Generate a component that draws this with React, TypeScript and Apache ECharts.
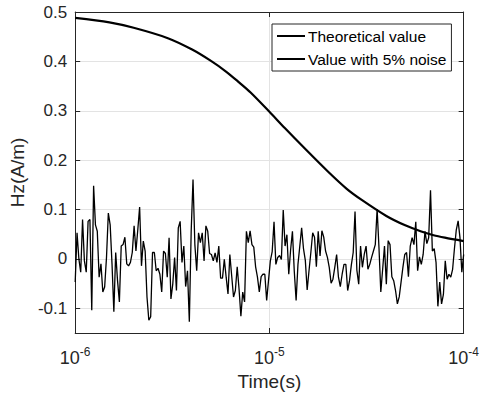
import React, { useEffect, useRef } from "react";
import * as echarts from "echarts";

const theoryTimes = [1e-6, 1.5e-6, 2e-6, 3e-6, 4e-6, 5e-6, 6e-6, 7e-6, 8e-6, 1e-5, 1.2e-5, 1.5e-5, 2e-5, 2.5e-5, 3e-5, 4e-5, 5e-5, 6e-5, 7e-5, 8e-5, 1e-4];
const theoryValues = [0.488, 0.479, 0.468, 0.447, 0.424, 0.401, 0.379, 0.357, 0.337, 0.298, 0.265, 0.226, 0.177, 0.142, 0.119, 0.087, 0.068, 0.056, 0.048, 0.043, 0.036];

const noiseValues = [
  -0.047, 0.053, 0, -0.027, 0.08, -0.004, -0.027, 0.076, 0.08, -0.104,
  0.148, 0.069, 0.056, -0.037, -0.01, -0.067, -0.057, 0.003, 0.093, 0.069,
  -0.01, -0.107, 0.013, -0.044, -0.087, 0.026, 0.029, 0.044, -0.01, -0.014,
  -0.007, 0.013, 0.067, 0.016, 0.059, 0.105, -0.014, 0.036, 0.016, -0.077,
  -0.124, -0.117, 0.013, 0.013, -0.024, -0.019, -0.031, -0.067, 0.016, 0.011,
  -0.037, 0.043, -0.081, -0.051, 0.003, -0.064, 0.063, 0.076, -0.007, 0.026,
  -0.056, -0.024, -0.127, 0.056, 0.161, 0.029, -0.024, 0.053, 0.033, 0.053,
  -0.004, 0.067, 0.056, 0.011, 0.009, -0.004, 0.012, -0.007, 0.026, -0.039,
  -0.039, -0.001, -0.037, -0.071, 0.009, -0.034, -0.077, -0.064, -0.016, -0.061,
  -0.116, -0.067, -0.087, 0.056, 0.033, 0.057, 0.029, 0.024, -0.016, -0.037,
  -0.067, -0.036, -0.031, -0.031, -0.084, -0.044, -0.004, 0.015, 0.075, -0.011,
  0.003, 0.007, -0.001, 0.099, 0.026, 0.049, -0.031, 0.018, 0.056, -0.025,
  -0.084, -0.011, 0.026, 0.063, 0.021, -0.003, -0.063, -0.024, 0.013, 0.053,
  0.044, -0.016, 0.056, 0.006, 0.057, 0.044, 0.016, 0.003, -0.017, -0.049,
  -0.041, -0.017, 0.009, -0.037, -0.056, -0.031, -0.011, -0.011, -0.064, -0.044,
  -0.012, 0.013, 0.096, -0.023, -0.051, 0.026, -0.017, 0.009, 0.026, -0.021,
  -0.011, 0.003, 0.016, 0.029, 0.101, 0.023, -0.067, -0.021, 0.026, -0.051,
  0.037, 0.029, -0.036, -0.044, -0.064, -0.091, -0.077, -0.047, -0.017, 0.009,
  0.013, -0.036, 0.026, 0.043, 0.029, 0.075, -0.024, 0.004, -0.011, 0.009,
  0.056, 0.031, 0.043, 0.139, 0.016, 0.021, -0.007, -0.096, -0.047, -0.091,
  -0.072, -0.004, -0.041, -0.031, -0.037, -0.021, 0.021, 0.059, 0.077, 0.043,
  -0.027, 0.009,
];

const yTicks = [-0.1, 0, 0.1, 0.2, 0.3, 0.4, 0.5];
const minorX = [2e-6, 3e-6, 4e-6, 5e-6, 6e-6, 7e-6, 8e-6, 9e-6, 2e-5, 3e-5, 4e-5, 5e-5, 6e-5, 7e-5, 8e-5, 9e-5];
const seriesNames = ["Theoretical value", "Value with 5% noise"];

const FONT = 'Arial, "Liberation Sans", sans-serif';
const AX = "#262626";

export default function App() {
  const ref = useRef<HTMLDivElement>(null);
  useEffect(() => {
    if (!ref.current) return;
    const chart = echarts.init(ref.current, null, { renderer: "svg" });
    const n = noiseValues.length;
    const noiseData = noiseValues.map((v, i) => [Math.pow(10, -6 + (2 * i) / (n - 1)), v]);
    const theoryData = theoryTimes.map((t, i) => [t, theoryValues[i]]);
    const xLabelFmt = (v: number) => `{b|10}{e|${Math.round(Math.log10(v))}}`;
    const xAxisBase: any = {
      type: "log",
      logBase: 10,
      min: 1e-6,
      max: 1e-4,
      axisLine: { show: true, onZero: false, lineStyle: { color: AX, width: 1 } },
      axisTick: { show: true, inside: true, length: 5, lineStyle: { color: AX } },
      splitLine: { show: true, lineStyle: { color: "#e3e3e3", width: 1 } },
    };
    const yAxisBase: any = {
      type: "value",
      min: -0.15,
      max: 0.5,
      axisLine: { show: true, onZero: false, lineStyle: { color: AX, width: 1 } },
      axisTick: { show: true, inside: true, length: 5, lineStyle: { color: AX }, customValues: yTicks },
    };
    chart.setOption({
      animation: false,
      backgroundColor: "#ffffff",
      textStyle: { fontFamily: FONT },
      grid: { left: 71, right: 15, top: 12, bottom: 61, show: false },
      legend: {
        data: seriesNames,
        orient: "vertical",
        left: 272,
        top: 24,
        backgroundColor: "#ffffff",
        borderColor: AX,
        borderWidth: 1,
        borderRadius: 0,
        padding: [4, 5, 4, 4],
        itemWidth: 28,
        itemHeight: 14,
        itemGap: 7,
        itemStyle: { opacity: 0 },
        textStyle: { fontSize: 15.5, color: "#000", fontFamily: FONT, padding: [0, 0, 0, -2] },
      },
      xAxis: [
        {
          ...xAxisBase,
          position: "bottom",
          name: "Time(s)",
          nameLocation: "middle",
          nameGap: 39,
          nameTextStyle: { fontSize: 19, color: AX, fontFamily: FONT },
          axisLabel: {
            show: true,
            margin: 13,
            formatter: xLabelFmt,
            rich: {
              b: { fontSize: 18, color: AX, fontFamily: FONT },
              e: { fontSize: 12, color: AX, fontFamily: FONT, padding: [0, 0, 12, 0] },
            },
          },
        },
        {
          ...xAxisBase,
          position: "top",
          axisLabel: { show: false },
          splitLine: { show: false },
        },
      ],
      yAxis: [
        {
          ...yAxisBase,
          position: "left",
          name: "Hz(A/m)",
          nameLocation: "middle",
          nameGap: 42,
          nameTextStyle: { fontSize: 19, color: AX, fontFamily: FONT },
          axisLabel: {
            show: true,
            fontSize: 17,
            color: AX,
            margin: 8,
            customValues: yTicks,
            formatter: (v: number) => String(Math.round(v * 10) / 10),
          },
          splitLine: { show: true, lineStyle: { color: "#e3e3e3", width: 1 } },
        },
        {
          ...yAxisBase,
          position: "right",
          axisLabel: { show: false },
          splitLine: { show: false },
        },
      ],
      series: [
        {
          name: "minor",
          type: "line",
          data: [],
          z: 0,
          silent: true,
          markLine: {
            silent: true,
            symbol: "none",
            label: { show: false },
            lineStyle: { type: "dotted", color: "#c8c8c8", width: 1 },
            data: minorX.map((v) => ({ xAxis: v })),
          },
        },
        {
          name: seriesNames[1],
          type: "line",
          data: noiseData,
          showSymbol: false,
          symbol: "none",
          z: 2,
          lineStyle: { color: "#000", width: 1.3 },
          itemStyle: { color: "#000" },
        },
        {
          name: seriesNames[0],
          type: "line",
          data: theoryData,
          showSymbol: false,
          symbol: "none",
          smooth: 0.3,
          z: 3,
          lineStyle: { color: "#000", width: 2.2 },
          itemStyle: { color: "#000" },
        },
      ],
    });
    return () => chart.dispose();
  }, []);
  return <div ref={ref} style={{ position: "absolute", left: 0, top: 0, width: 482, height: 396 }} />;
}
